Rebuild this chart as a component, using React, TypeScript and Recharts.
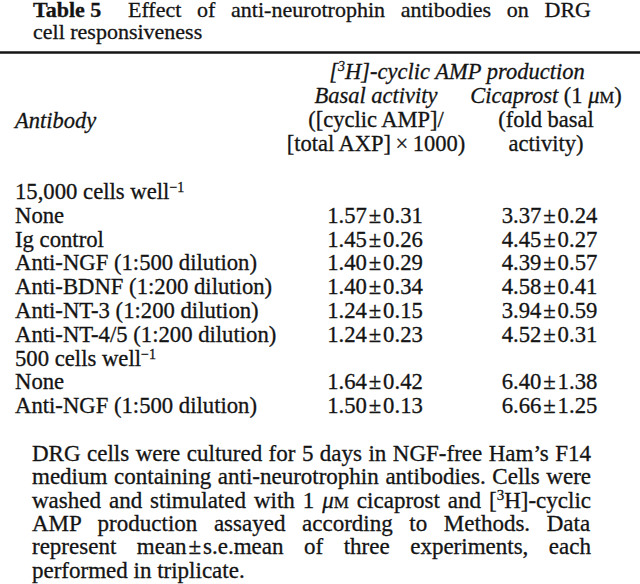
import React from 'react';
import { ComposedChart, XAxis, YAxis, Bar, Customized } from 'recharts';

const FONT = "'Liberation Serif', 'Times New Roman', serif";
const TITLE_SIZE = 22;
const HEAD_SIZE = 22.5;
const ROW_SIZE = 22.7;
const NOTE_SIZE = 23;
const INK = '#141414';
const WEIGHT_STROKE = 0.3;

type Seg = { t: string; i?: boolean; b?: boolean; s?: number; sup?: boolean };

// ---- Title ----
const titleLabel = 'Table 5';
const titleLine1 = 'Effect of anti-neurotrophin antibodies on DRG';
const titleLine2 = 'cell responsiveness';

// ---- Column headers ----
const spanHeader: Seg[] = [{ t: '[', i: true }, { t: '3', i: true, sup: true }, { t: 'H]-cyclic AMP production', i: true }];
const basalHeader: Seg[][] = [
  [{ t: 'Basal activity', i: true }],
  [{ t: '([cyclic AMP]/' }],
  [{ t: '[total AXP]\u2009×\u20091000)' }],
];
const cicaHeader: Seg[][] = [
  [{ t: 'Cicaprost', i: true }, { t: ' (1 ' }, { t: 'μ', i: true }, { t: 'M', s: 16.5 }, { t: ')' }],
  [{ t: '(fold basal' }],
  [{ t: 'activity)' }],
];
const rowHeader = 'Antibody';

// ---- Table body ----
const rowLabels = [
  '15,000 cells well',
  'None',
  'Ig control',
  'Anti-NGF (1:500 dilution)',
  'Anti-BDNF (1:200 dilution)',
  'Anti-NT-3 (1:200 dilution)',
  'Anti-NT-4/5 (1:200 dilution)',
  '500 cells well',
  'None',
  'Anti-NGF (1:500 dilution)',
];
const rowSuperscripts = ['−1', '', '', '', '', '', '', '−1', '', ''];
const basalMean = [null, 1.57, 1.45, 1.4, 1.4, 1.24, 1.24, null, 1.64, 1.5];
const basalSem = [null, 0.31, 0.26, 0.29, 0.34, 0.15, 0.23, null, 0.42, 0.13];
const cicaMean = [null, 3.37, 4.45, 4.39, 4.58, 3.94, 4.52, null, 6.4, 6.66];
const cicaSem = [null, 0.24, 0.27, 0.57, 0.41, 0.59, 0.31, null, 1.38, 1.25];

// ---- Footnote ----
const footnoteLines: Seg[][] = [
  [{ t: 'DRG cells were cultured for 5 days in NGF-free Ham’s F14' }],
  [{ t: 'medium containing anti-neurotrophin antibodies. Cells were' }],
  [
    { t: 'washed and stimulated with 1 ' },
    { t: 'μ', i: true },
    { t: 'M', s: 17 },
    { t: ' cicaprost and [' },
    { t: '3', sup: true },
    { t: 'H]-cyclic' },
  ],
  [{ t: 'AMP production assayed according to Methods. Data' }],
  [{ t: 'represent mean\u200A±\u200As.e.mean of three experiments, each' }],
  [{ t: 'performed in triplicate.' }],
];

const fmt = (m: number | null, s: number | null) =>
  m == null || s == null ? '' : `${m.toFixed(2)}\u200A±\u200A${s.toFixed(2)}`;

const rows = rowLabels.map((label, i) => ({
  id: `row${i}`,
  label,
  sup: rowSuperscripts[i],
  basal: fmt(basalMean[i], basalSem[i]),
  cica: fmt(cicaMean[i], cicaSem[i]),
  basalValue: basalMean[i] ?? 0,
}));

let ctx: CanvasRenderingContext2D | null = null;
function segSize(seg: Seg, base: number) {
  return seg.sup ? Math.round(base * 0.64) : seg.s ?? base;
}
function measure(seg: Seg, base: number) {
  if (!ctx) ctx = document.createElement('canvas').getContext('2d');
  if (!ctx) return seg.t.length * base * 0.45;
  ctx.font = `${seg.i ? 'italic ' : ''}${seg.b ? 'bold ' : ''}${segSize(seg, base)}px ${FONT}`;
  return ctx.measureText(seg.t).width;
}

function renderSegs(segs: Seg[], base: number) {
  let raised = false;
  return segs.map((seg, k) => {
    let dy: number | undefined;
    if (seg.sup && !raised) {
      dy = -8;
      raised = true;
    } else if (!seg.sup && raised) {
      dy = 8;
      raised = false;
    }
    return (
      <tspan
        key={k}
        dy={dy}
        fontStyle={seg.i ? 'italic' : 'normal'}
        fontWeight={seg.b ? 'bold' : 'normal'}
        fontSize={segSize(seg, base)}
      >
        {seg.t}
      </tspan>
    );
  });
}

const inkProps = { fill: INK, stroke: INK, strokeWidth: WEIGHT_STROKE, fontFamily: FONT };

const TextLine = ({ segs, x, y, anchor = 'start', x1, justify = false, size = HEAD_SIZE }: any) => {
  let ws = 0;
  if (justify && x1 != null) {
    const natural = segs.reduce((a: number, s: Seg) => a + measure(s, size), 0);
    const spaces = segs.reduce((a: number, s: Seg) => a + (s.t.match(/ /g) || []).length, 0);
    if (spaces > 0) ws = (x1 - x - natural) / spaces;
  }
  return (
    <text
      x={x}
      y={y}
      textAnchor={anchor}
      fontSize={size}
      {...inkProps}
      style={{ whiteSpace: 'pre', wordSpacing: ws ? `${ws}px` : undefined }}
    >
      {renderSegs(segs, size)}
    </text>
  );
};

const Frame = () => (
  <g>
    <text x={33} y={17} fontSize={TITLE_SIZE} fontWeight="bold" {...inkProps}>
      {titleLabel}
    </text>
    <TextLine segs={[{ t: titleLine1 }]} x={128} x1={591} y={17} justify size={TITLE_SIZE} />
    <TextLine segs={[{ t: titleLine2 }]} x={33} y={39} size={TITLE_SIZE} />
    <line x1={0} x2={640} y1={52.5} y2={52.5} stroke={INK} strokeWidth={2.5} />

    <TextLine segs={spanHeader} x={457} y={79} anchor="middle" />
    {basalHeader.map((segs, k) => (
      <TextLine key={`b${k}`} segs={segs} x={376} y={103 + k * 23.8} anchor="middle" />
    ))}
    {cicaHeader.map((segs, k) => (
      <TextLine key={`c${k}`} segs={segs} x={546} y={103 + k * 23.8} anchor="middle" />
    ))}
    <TextLine segs={[{ t: rowHeader, i: true }]} x={15} y={128} />

    {footnoteLines.map((segs, k) => (
      <TextLine
        key={`f${k}`}
        segs={segs}
        x={32}
        x1={591}
        y={461 + k * 23.3}
        size={NOTE_SIZE}
        justify={k < footnoteLines.length - 1}
      />
    ))}
  </g>
);

const RowTick = (props: any) => {
  const { y, payload } = props;
  const r = rows.find((row) => row.id === payload.value);
  if (!r) return null;
  const by = y + 7.5;
  return (
    <g>
      <text x={15} y={by} fontSize={ROW_SIZE} textAnchor="start" {...inkProps}>
        <tspan>{r.label}</tspan>
        {r.sup ? (
          <tspan dy={-7} fontSize={14}>
            {r.sup}
          </tspan>
        ) : null}
      </text>
      {r.basal ? (
        <text x={375} y={by} fontSize={ROW_SIZE} textAnchor="middle" {...inkProps}>
          {r.basal}
        </text>
      ) : null}
      {r.cica ? (
        <text x={549.5} y={by} fontSize={ROW_SIZE} textAnchor="middle" {...inkProps}>
          {r.cica}
        </text>
      ) : null}
    </g>
  );
};

// band centres: baseline(i) = 199 + 23.8 * i, centre = baseline - 7.5
const ROW_STEP = 23.8;
const TOP = 199 - 7.5 - ROW_STEP / 2;
const BOTTOM = 584 - (TOP + ROW_STEP * rows.length);

export default function App() {
  return (
    <div style={{ position: 'absolute', left: 0, top: 0, width: 640, height: 584, background: '#ffffff' }}>
      <ComposedChart
        width={640}
        height={584}
        data={rows}
        layout="vertical"
        margin={{ top: TOP, bottom: BOTTOM, left: 0, right: 0 }}
        barCategoryGap={0}
      >
        <XAxis type="number" hide domain={[0, 10]} />
        <YAxis
          type="category"
          dataKey="id"
          width={1}
          axisLine={false}
          tickLine={false}
          interval={0}
          tick={<RowTick />}
        />
        <Bar dataKey="basalValue" fill="#ffffff" fillOpacity={0} isAnimationActive={false} />
        <Customized component={<Frame />} />
      </ComposedChart>
    </div>
  );
}
